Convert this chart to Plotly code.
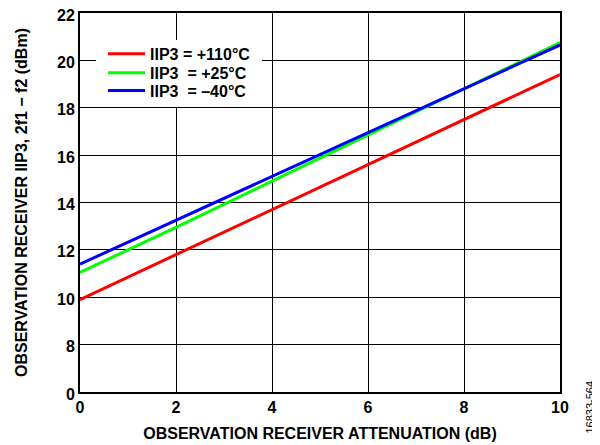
import plotly.graph_objects as go

atten_db = [0, 2, 4, 6, 8, 10]
iip3_110c = [9.9, 11.8, 13.7, 15.6, 17.5, 19.4]
iip3_25c = [11.05, 12.95, 14.9, 16.85, 18.8, 20.75]
iip3_m40c = [11.4, 13.25, 15.1, 16.95, 18.8, 20.65]

series_names = ["IIP3 = +110°C", "IIP3  = +25°C", "IIP3  = \u201340°C"]
series_colors = ["#ff0000", "#00ff00", "#0000ff"]
series_values = [iip3_110c, iip3_25c, iip3_m40c]
legend_ids = ["legend", "legend2", "legend3"]
legend_y = [0.892, 0.842, 0.795]

y_tickvals = [6, 8, 10, 12, 14, 16, 18, 20, 22]
y_ticktext = ["0", "8", "10", "12", "14", "16", "18", "20", "22"]
x_tickvals = [0, 2, 4, 6, 8, 10]

fig = go.Figure()
for name, color, vals, lid in zip(series_names, series_colors, series_values, legend_ids):
    fig.add_trace(go.Scatter(x=atten_db, y=vals, mode="lines", name=name,
                             line=dict(color=color, width=3), legend=lid))

font = "Arial, Liberation Sans, Helvetica, sans-serif"
legend_style = dict(xanchor="left", yanchor="middle", bgcolor="rgba(0,0,0,0)", borderwidth=0,
                    font=dict(family=font, size=16, weight="bold"), itemwidth=37)
fig.update_layout(
    width=592, height=437,
    margin=dict(l=72, r=40, t=5, b=53),
    paper_bgcolor="white", plot_bgcolor="white",
    font=dict(family=font, color="black", size=16),
    legend=dict(x=0.048, y=legend_y[0], **legend_style),
    legend2=dict(x=0.048, y=legend_y[1], **legend_style),
    legend3=dict(x=0.048, y=legend_y[2], **legend_style),
    showlegend=True,
)
# white panel behind the legend entries (covers grid lines)
fig.add_shape(type="rect", xref="paper", yref="paper", x0=0.0333, x1=0.379,
              y0=0.752, y1=0.9288, fillcolor="white", line=dict(width=0), layer="above")
fig.update_xaxes(range=[0, 10], tickvals=x_tickvals, showgrid=True,
                 gridcolor="black", gridwidth=1, showline=True, linecolor="black",
                 linewidth=2, mirror=True, zeroline=False, ticks="", automargin=False,
                 ticklabeloverflow="allow",
                 tickfont=dict(family=font, size=16, weight="bold"),
                 title=dict(text="OBSERVATION RECEIVER ATTENUATION (dB)",
                            font=dict(family=font, size=16, weight="bold"), standoff=13))
fig.update_yaxes(range=[6, 22], tickvals=y_tickvals, ticktext=y_ticktext, showgrid=True,
                 gridcolor="black", gridwidth=1, showline=True, linecolor="black",
                 linewidth=2, mirror=True, zeroline=False, ticks="", automargin=False,
                 ticklabeloverflow="allow", ticklabelshift=2,
                 tickfont=dict(family=font, size=16, weight="bold"),
                 title=dict(text="OBSERVATION RECEIVER IIP3, 2f1 \u2212 f2 (dBm)",
                            font=dict(family=font, size=16, weight="bold"), standoff=25))
fig.add_annotation(text="16833-564", xref="paper", yref="paper", x=1.0625, y=-0.041,
                   xanchor="center", yanchor="middle", textangle=-90, showarrow=False,
                   font=dict(family=font, size=11, color="black"))

fig.write_html("out.html")
